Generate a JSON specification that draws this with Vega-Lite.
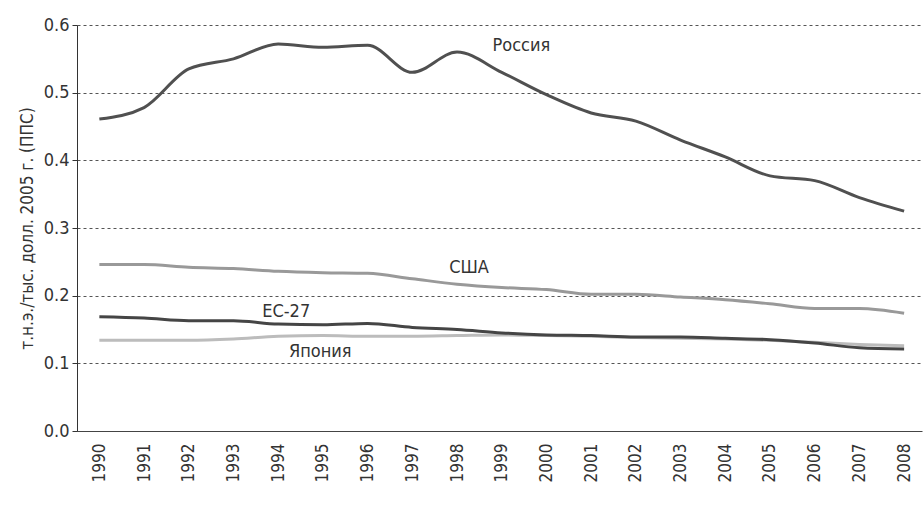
{
  "$schema": "https://vega.github.io/schema/vega-lite/v6.json",
  "width": 845,
  "height": 406,
  "autosize": {"type": "none"},
  "padding": {"left": 77, "top": 25, "right": 1, "bottom": 80},
  "background": "white",
  "config": {"view": {"stroke": null}, "font": "DejaVu Sans Condensed, Roboto, sans-serif"},
  "datasets": {
    "series": [
      {"year": 1990, "series": "Япония", "value": 0.134},
      {"year": 1991, "series": "Япония", "value": 0.134},
      {"year": 1992, "series": "Япония", "value": 0.134},
      {"year": 1993, "series": "Япония", "value": 0.136},
      {"year": 1994, "series": "Япония", "value": 0.140},
      {"year": 1995, "series": "Япония", "value": 0.141},
      {"year": 1996, "series": "Япония", "value": 0.140},
      {"year": 1997, "series": "Япония", "value": 0.140},
      {"year": 1998, "series": "Япония", "value": 0.141},
      {"year": 1999, "series": "Япония", "value": 0.142},
      {"year": 2000, "series": "Япония", "value": 0.141},
      {"year": 2001, "series": "Япония", "value": 0.140},
      {"year": 2002, "series": "Япония", "value": 0.138},
      {"year": 2003, "series": "Япония", "value": 0.137},
      {"year": 2004, "series": "Япония", "value": 0.136},
      {"year": 2005, "series": "Япония", "value": 0.134},
      {"year": 2006, "series": "Япония", "value": 0.131},
      {"year": 2007, "series": "Япония", "value": 0.128},
      {"year": 2008, "series": "Япония", "value": 0.126},
      {"year": 1990, "series": "ЕС-27", "value": 0.169},
      {"year": 1991, "series": "ЕС-27", "value": 0.167},
      {"year": 1992, "series": "ЕС-27", "value": 0.163},
      {"year": 1993, "series": "ЕС-27", "value": 0.163},
      {"year": 1994, "series": "ЕС-27", "value": 0.158},
      {"year": 1995, "series": "ЕС-27", "value": 0.157},
      {"year": 1996, "series": "ЕС-27", "value": 0.159},
      {"year": 1997, "series": "ЕС-27", "value": 0.153},
      {"year": 1998, "series": "ЕС-27", "value": 0.150},
      {"year": 1999, "series": "ЕС-27", "value": 0.145},
      {"year": 2000, "series": "ЕС-27", "value": 0.142},
      {"year": 2001, "series": "ЕС-27", "value": 0.141},
      {"year": 2002, "series": "ЕС-27", "value": 0.139},
      {"year": 2003, "series": "ЕС-27", "value": 0.139},
      {"year": 2004, "series": "ЕС-27", "value": 0.137},
      {"year": 2005, "series": "ЕС-27", "value": 0.135},
      {"year": 2006, "series": "ЕС-27", "value": 0.130},
      {"year": 2007, "series": "ЕС-27", "value": 0.123},
      {"year": 2008, "series": "ЕС-27", "value": 0.121},
      {"year": 1990, "series": "США", "value": 0.246},
      {"year": 1991, "series": "США", "value": 0.246},
      {"year": 1992, "series": "США", "value": 0.242},
      {"year": 1993, "series": "США", "value": 0.240},
      {"year": 1994, "series": "США", "value": 0.236},
      {"year": 1995, "series": "США", "value": 0.234},
      {"year": 1996, "series": "США", "value": 0.233},
      {"year": 1997, "series": "США", "value": 0.225},
      {"year": 1998, "series": "США", "value": 0.217},
      {"year": 1999, "series": "США", "value": 0.212},
      {"year": 2000, "series": "США", "value": 0.209},
      {"year": 2001, "series": "США", "value": 0.202},
      {"year": 2002, "series": "США", "value": 0.202},
      {"year": 2003, "series": "США", "value": 0.198},
      {"year": 2004, "series": "США", "value": 0.194},
      {"year": 2005, "series": "США", "value": 0.188},
      {"year": 2006, "series": "США", "value": 0.181},
      {"year": 2007, "series": "США", "value": 0.181},
      {"year": 2008, "series": "США", "value": 0.174},
      {"year": 1990, "series": "Россия", "value": 0.461},
      {"year": 1991, "series": "Россия", "value": 0.478},
      {"year": 1992, "series": "Россия", "value": 0.535},
      {"year": 1993, "series": "Россия", "value": 0.550},
      {"year": 1994, "series": "Россия", "value": 0.572},
      {"year": 1995, "series": "Россия", "value": 0.567},
      {"year": 1996, "series": "Россия", "value": 0.570},
      {"year": 1997, "series": "Россия", "value": 0.530},
      {"year": 1998, "series": "Россия", "value": 0.560},
      {"year": 1999, "series": "Россия", "value": 0.530},
      {"year": 2000, "series": "Россия", "value": 0.497},
      {"year": 2001, "series": "Россия", "value": 0.470},
      {"year": 2002, "series": "Россия", "value": 0.458},
      {"year": 2003, "series": "Россия", "value": 0.430},
      {"year": 2004, "series": "Россия", "value": 0.405},
      {"year": 2005, "series": "Россия", "value": 0.377},
      {"year": 2006, "series": "Россия", "value": 0.370},
      {"year": 2007, "series": "Россия", "value": 0.345},
      {"year": 2008, "series": "Россия", "value": 0.325}
    ],
    "labels": [
      {"year": 1999.44, "value": 0.569, "text": "Россия"},
      {"year": 1998.27, "value": 0.241, "text": "США"},
      {"year": 1994.18, "value": 0.176, "text": "ЕС-27"},
      {"year": 1994.94, "value": 0.117, "text": "Япония"}
    ]
  },
  "layer": [
    {
      "data": {"name": "series"},
      "mark": {"type": "line", "interpolate": "monotone", "strokeWidth": 3},
      "encoding": {
        "x": {
          "field": "year",
          "type": "quantitative",
          "scale": {"domain": [1989.5, 2008.4], "nice": false, "zero": false},
          "axis": {
            "title": null,
            "values": [1990, 1990.5, 1991, 1991.5, 1992, 1992.5, 1993, 1993.5, 1994, 1994.5, 1995, 1995.5, 1996, 1996.5, 1997, 1997.5, 1998, 1998.5, 1999, 1999.5, 2000, 2000.5, 2001, 2001.5, 2002, 2002.5, 2003, 2003.5, 2004, 2004.5, 2005, 2005.5, 2006, 2006.5, 2007, 2007.5, 2008],
            "labelExpr": "datum.value % 1 == 0 ? toString(datum.value) : ''",
            "tickOpacity": {"condition": {"test": "datum.value % 1 == 0", "value": 0}, "value": 1},
            "labelAngle": -90,
            "labelAlign": "right",
            "labelBaseline": "middle",
            "labelOverlap": false,
            "labelFontSize": 17,
            "labelColor": "#333333",
            "labelPadding": 8,
            "tickSize": 4,
            "tickColor": "#444444",
            "domainColor": "#444444",
            "grid": false
          }
        },
        "y": {
          "field": "value",
          "type": "quantitative",
          "scale": {"domain": [0, 0.6], "nice": false},
          "axis": {
            "title": "т.н.э./тыс. долл. 2005 г. (ППС)",
            "titleFontSize": 17,
            "titleFontWeight": "normal",
            "titleColor": "#333333",
            "titleAngle": -90,
            "titleX": -50,
            "titleY": 203,
            "titleAlign": "center",
            "titleBaseline": "middle",
            "values": [0, 0.1, 0.2, 0.3, 0.4, 0.5, 0.6],
            "format": ".1f",
            "labelFontSize": 18,
            "labelColor": "#333333",
            "labelPadding": 3,
            "tickSize": 5,
            "tickColor": "#333333",
            "domainColor": "#333333",
            "grid": true,
            "gridDash": [3, 3],
            "gridColor": "#555555",
            "gridWidth": 1
          }
        },
        "color": {
          "field": "series",
          "type": "nominal",
          "scale": {"domain": ["Россия", "США", "ЕС-27", "Япония"], "range": ["#505050", "#999999", "#454545", "#bcbcbc"]},
          "legend": null
        },
        "order": {"value": 0}
      }
    },
    {
      "data": {"name": "labels"},
      "mark": {"type": "text", "fontSize": 18, "color": "#333333", "align": "center", "baseline": "middle"},
      "encoding": {
        "x": {"field": "year", "type": "quantitative"},
        "y": {"field": "value", "type": "quantitative"},
        "text": {"field": "text"}
      }
    }
  ]
}
